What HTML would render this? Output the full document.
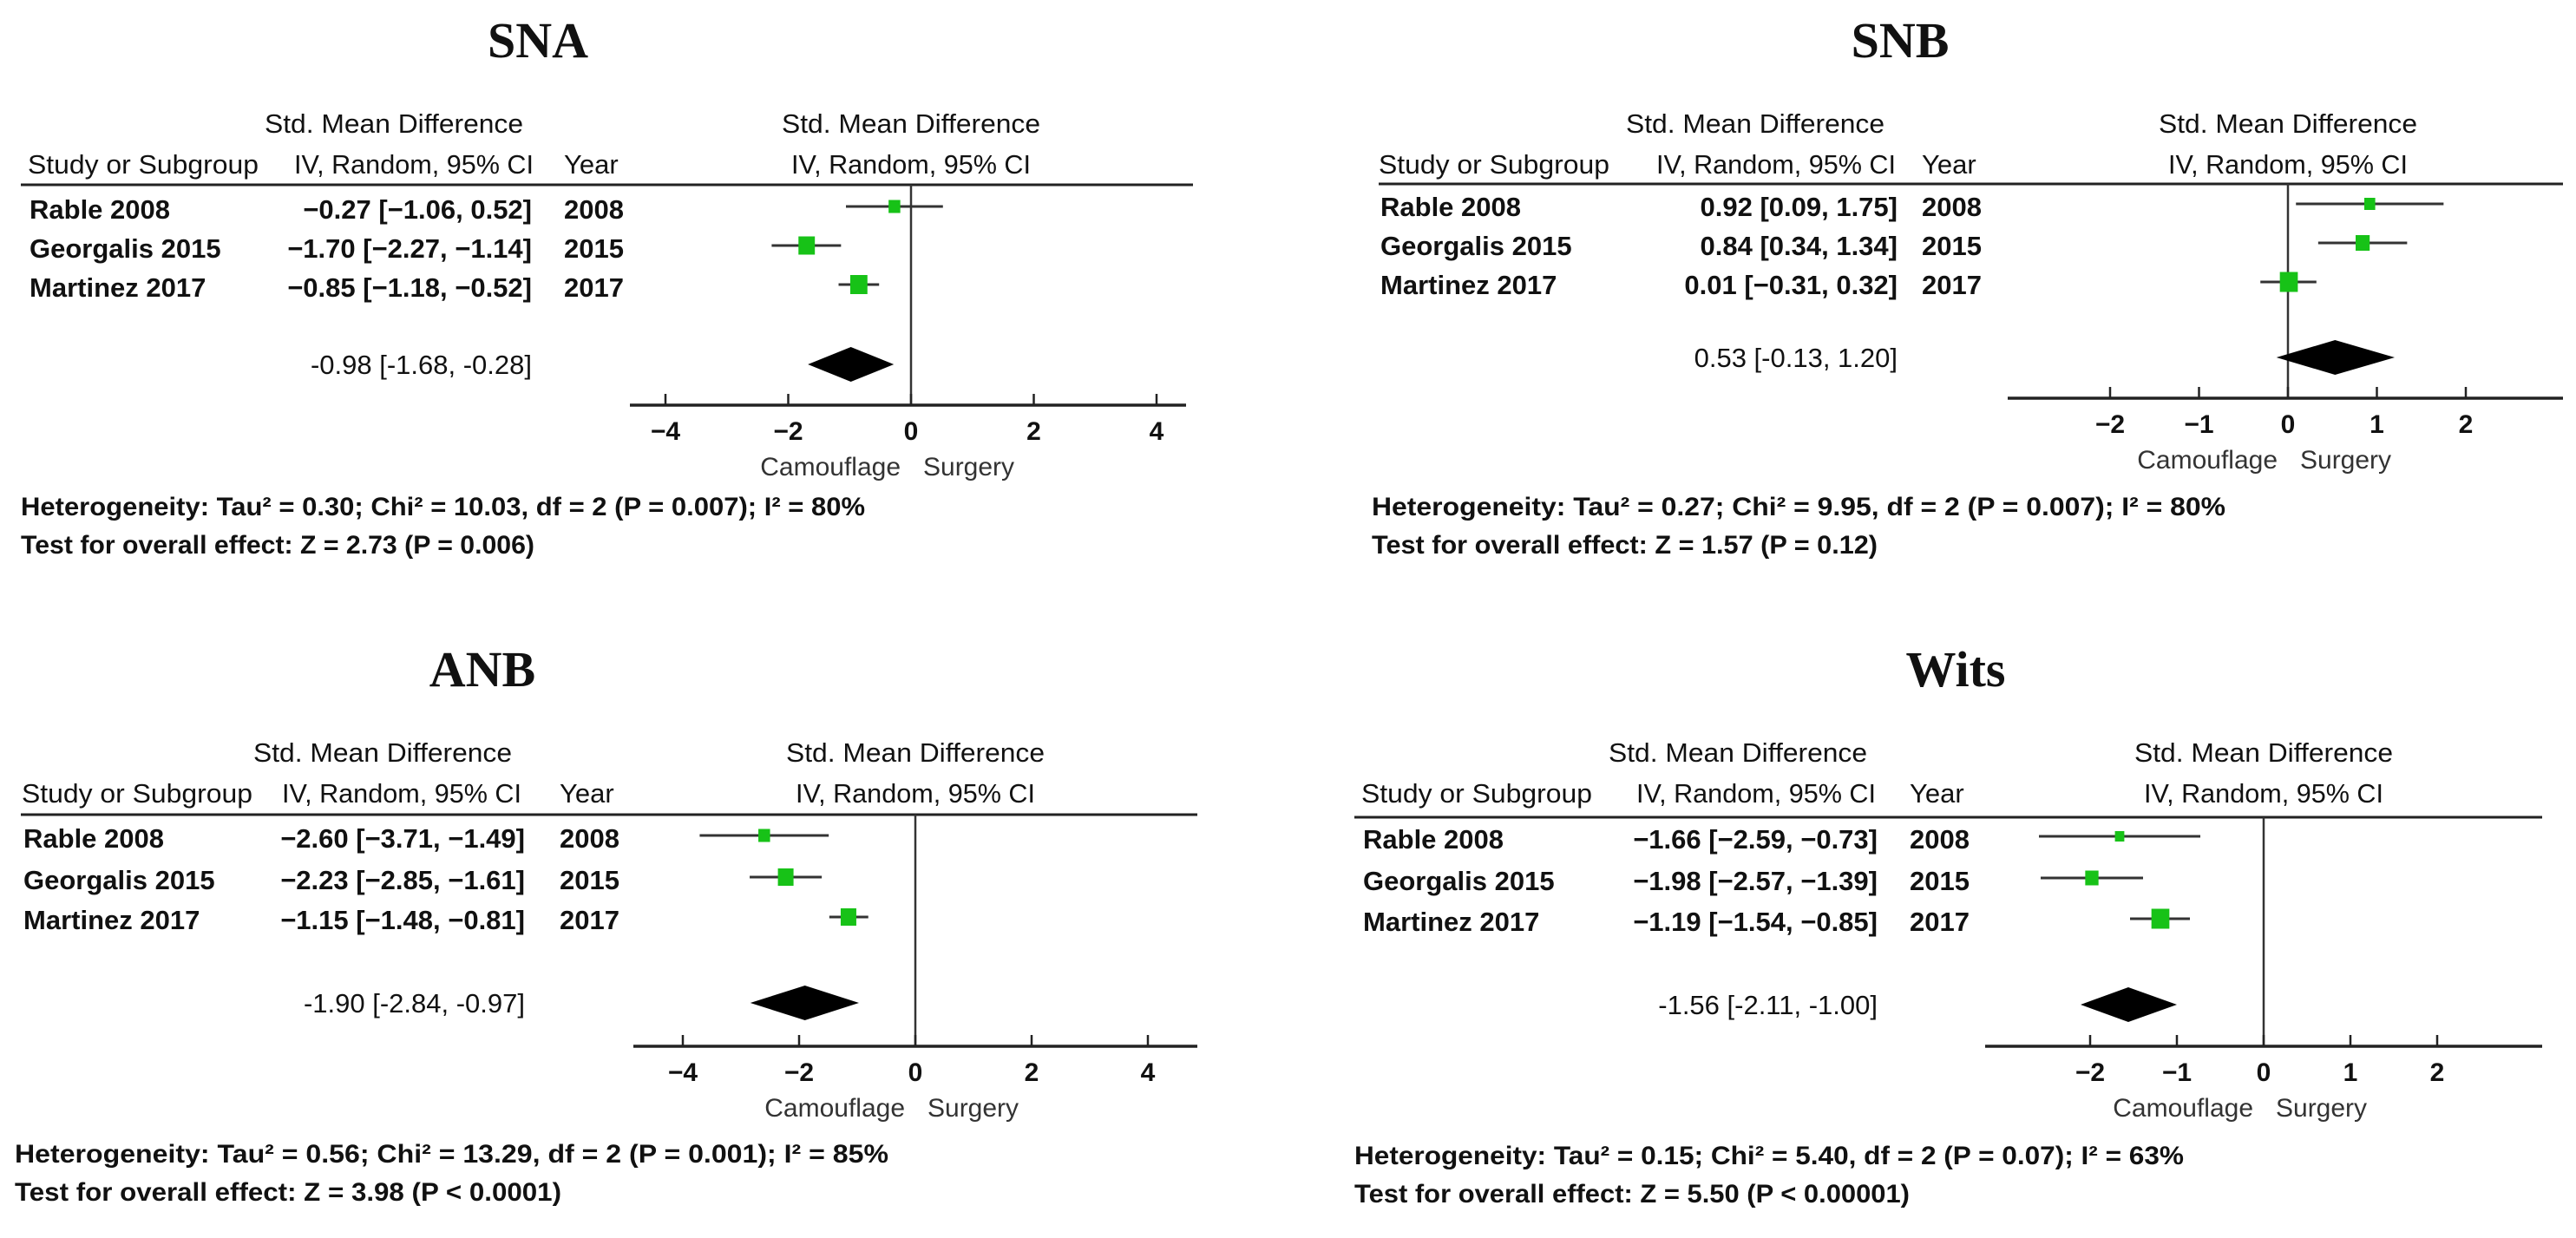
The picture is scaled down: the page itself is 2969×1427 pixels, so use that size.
<!DOCTYPE html>
<html><head><meta charset="utf-8"><title>Forest plots: SNA, SNB, ANB, Wits</title>
<style>
html,body{margin:0;padding:0;background:#fff;}
svg{display:block;}
text{font-family:"Liberation Sans",Arial,sans-serif;fill:#111;}
.title{font-family:"Liberation Serif","Times New Roman",serif;font-weight:bold;font-size:58px;}
.hdr{font-size:31px;}
.row{font-size:31px;font-weight:bold;}
.sum{font-size:31px;}
.tick{font-size:30px;font-weight:bold;}
.dir{font-size:30px;fill:#333;}
.stat{font-size:30px;font-weight:bold;}
</style></head>
<body>
<svg id="chart" width="2969" height="1427" viewBox="0 0 2969 1427" xmlns="http://www.w3.org/2000/svg">
<rect x="0" y="0" width="2969" height="1427" fill="#fff"/>
</svg>
<script>
// ---- data ----
const studies = ["Rable 2008", "Georgalis 2015", "Martinez 2017"];
const years = ["2008", "2015", "2017"];

const snaMeans = [-0.27, -1.70, -0.85];
const snaLow = [-1.06, -2.27, -1.18];
const snaHigh = [0.52, -1.14, -0.52];
const snaWeights = [15, 21, 22];
const snaSummary = [-0.98, -1.68, -0.28];
const snaTicks = [-4, -2, 0, 2, 4];
const snaHet = "Heterogeneity: Tau² = 0.30; Chi² = 10.03, df = 2 (P = 0.007); I² = 80%";
const snaTest = "Test for overall effect: Z = 2.73 (P = 0.006)";

const snbMeans = [0.92, 0.84, 0.01];
const snbLow = [0.09, 0.34, -0.31];
const snbHigh = [1.75, 1.34, 0.32];
const snbWeights = [14, 18, 23];
const snbSummary = [0.53, -0.13, 1.20];
const snbTicks = [-2, -1, 0, 1, 2];
const snbHet = "Heterogeneity: Tau² = 0.27; Chi² = 9.95, df = 2 (P = 0.007); I² = 80%";
const snbTest = "Test for overall effect: Z = 1.57 (P = 0.12)";

const anbMeans = [-2.60, -2.23, -1.15];
const anbLow = [-3.71, -2.85, -1.48];
const anbHigh = [-1.49, -1.61, -0.81];
const anbWeights = [15, 20, 20];
const anbSummary = [-1.90, -2.84, -0.97];
const anbTicks = [-4, -2, 0, 2, 4];
const anbHet = "Heterogeneity: Tau² = 0.56; Chi² = 13.29, df = 2 (P = 0.001); I² = 85%";
const anbTest = "Test for overall effect: Z = 3.98 (P < 0.0001)";

const witsMeans = [-1.66, -1.98, -1.19];
const witsLow = [-2.59, -2.57, -1.54];
const witsHigh = [-0.73, -1.39, -0.85];
const witsWeights = [12, 17, 23];
const witsSummary = [-1.56, -2.11, -1.00];
const witsTicks = [-2, -1, 0, 1, 2];
const witsHet = "Heterogeneity: Tau² = 0.15; Chi² = 5.40, df = 2 (P = 0.07); I² = 63%";
const witsTest = "Test for overall effect: Z = 5.50 (P < 0.00001)";

// ---- layout (not data) ----
const NS = "http://www.w3.org/2000/svg";
const svg = document.getElementById("chart");
function el(tag, attrs, parent, txt) {
  const e = document.createElementNS(NS, tag);
  for (const k in attrs) e.setAttribute(k, attrs[k]);
  if (txt !== undefined) e.textContent = txt;
  (parent || svg).appendChild(e);
  return e;
}
function fmt(v) { return (v < 0 ? "\u2212" : "") + Math.abs(v).toFixed(2); }
function fmtS(v) { return (v < 0 ? "-" : "") + Math.abs(v).toFixed(2); }

function panel(cfg, means, low, high, weights, summary, ticks, het, test) {
  const g = el("g", {});
  
  
  const xs = v => cfg.zero + v * cfg.unit;

  const t = el("text", {x: cfg.titleX, y: cfg.titleY, "text-anchor": "middle", class: "title"}, g, cfg.title);
  
  

  // headers
  let h = el("text", {x: cfg.smdX, y: cfg.h1 + 11, class: "hdr", textLength: 298, lengthAdjust: "spacingAndGlyphs"}, g, "Std. Mean Difference");
  
  
  h = el("text", {x: cfg.studyX, y: cfg.h2 + 11, class: "hdr", textLength: 266, lengthAdjust: "spacingAndGlyphs"}, g, "Study or Subgroup");
  
  
  h = el("text", {x: cfg.ivX, y: cfg.h2 + 11, class: "hdr", textLength: 276, lengthAdjust: "spacingAndGlyphs"}, g, "IV, Random, 95% CI");
  
  
  h = el("text", {x: cfg.yearX, y: cfg.h2 + 11, class: "hdr"}, g, "Year");
  
  
  h = el("text", {x: cfg.zero, y: cfg.h1 + 11, class: "hdr", "text-anchor": "middle", textLength: 298, lengthAdjust: "spacingAndGlyphs"}, g, "Std. Mean Difference");
  
  
  h = el("text", {x: cfg.zero, y: cfg.h2 + 11, class: "hdr", "text-anchor": "middle", textLength: 276, lengthAdjust: "spacingAndGlyphs"}, g, "IV, Random, 95% CI");
  
  

  const hl = el("line", {x1: cfg.lineX1, x2: cfg.lineX2, y1: cfg.lineY, y2: cfg.lineY, stroke: "#222", "stroke-width": 3}, g);
  
  

  // zero line
  const zl = el("line", {x1: xs(0), x2: xs(0), y1: cfg.lineY, y2: cfg.axisY, stroke: "#333", "stroke-width": 2.5}, g);
  
  

  // rows
  for (let i = 0; i < studies.length; i++) {
    const y = cfg.rows[i];
    let tx = el("text", {x: cfg.studyX + 2, y: y + 11, class: "row"}, g, studies[i]);
    
    
    tx = el("text", {x: cfg.valR, y: y + 11, class: "row", "text-anchor": "end"}, g,
      fmt(means[i]) + " [" + fmt(low[i]) + ", " + fmt(high[i]) + "]");
    
    
    tx = el("text", {x: cfg.yearX, y: y + 11, class: "row"}, g, years[i]);
    
    

    const my = y - 3;
    const ci = el("line", {x1: xs(low[i]), x2: xs(high[i]), y1: my, y2: my, stroke: "#333", "stroke-width": 3}, g);
    
    
    const w = weights[i];
    const sq = el("rect", {x: xs(means[i]) - w * 0.45, y: my - w / 2, width: w * 0.9, height: w, fill: "#17c217"}, g);
    
    
  }

  // summary
  const sy = cfg.sumY;
  let st = el("text", {x: cfg.valR, y: sy + 11, class: "sum", "text-anchor": "end"}, g,
    fmtS(summary[0]) + " [" + fmtS(summary[1]) + ", " + fmtS(summary[2]) + "]");
  
  
  const d = el("polygon", {points:
    xs(summary[1]) + "," + sy + " " + xs(summary[0]) + "," + (sy - 20) + " " +
    xs(summary[2]) + "," + sy + " " + xs(summary[0]) + "," + (sy + 20), fill: "#000"}, g);
  
  

  // axis
  const ax = el("line", {x1: cfg.axX1, x2: cfg.axX2, y1: cfg.axisY, y2: cfg.axisY, stroke: "#222", "stroke-width": 3.5}, g);
  
  
  for (const tv of ticks) {
    const tk = el("line", {x1: xs(tv), x2: xs(tv), y1: cfg.axisY - 13, y2: cfg.axisY, stroke: "#222", "stroke-width": 2.5}, g);
    
    
    const tl = el("text", {x: xs(tv), y: cfg.axisY + 40, class: "tick", "text-anchor": "middle"}, g, tv < 0 ? "\u2212" + Math.abs(tv) : String(tv));
    
    
  }
  let dl = el("text", {x: xs(0) - 12, y: cfg.axisY + 81, class: "dir", "text-anchor": "end"}, g, "Camouflage");
  
  
  dl = el("text", {x: xs(0) + 14, y: cfg.axisY + 81, class: "dir"}, g, "Surgery");
  
  

  // stats
  let s1 = el("text", {x: cfg.studyX - 8, y: cfg.hetY, class: "stat", textLength: cfg.hetW, lengthAdjust: "spacingAndGlyphs"}, g, het);
  
  
  s1 = el("text", {x: cfg.studyX - 8, y: cfg.hetY + 44, class: "stat", textLength: cfg.testW, lengthAdjust: "spacingAndGlyphs"}, g, test);
  
  
}

panel({key: "sna", title: "SNA", titleX: 620, titleY: 66, studyX: 32, smdX: 305, ivX: 339, yearX: 650, valR: 613,
  h1: 142, h2: 189, lineY: 213, lineX1: 24, lineX2: 1375, rows: [241, 286, 331], sumY: 420,
  zero: 1050, unit: 70.75, axisY: 467, axX1: 726, axX2: 1367, hetY: 594, hetW: 973, testW: 592},
  snaMeans, snaLow, snaHigh, snaWeights, snaSummary, snaTicks, snaHet, snaTest);

panel({key: "snb", title: "SNB", titleX: 2190, titleY: 66, studyX: 1589, smdX: 1874, ivX: 1909, yearX: 2215, valR: 2187,
  h1: 142, h2: 189, lineY: 212, lineX1: 1589, lineX2: 2954, rows: [238, 283, 328], sumY: 412,
  zero: 2637, unit: 102.5, axisY: 459, axX1: 2314, axX2: 2954, hetY: 594, hetW: 984, testW: 583},
  snbMeans, snbLow, snbHigh, snbWeights, snbSummary, snbTicks, snbHet, snbTest);

panel({key: "anb", title: "ANB", titleX: 556, titleY: 791, studyX: 25, smdX: 292, ivX: 325, yearX: 645, valR: 605,
  h1: 867, h2: 914, lineY: 939, lineX1: 24, lineX2: 1380, rows: [966, 1014, 1060], sumY: 1156,
  zero: 1055, unit: 67, axisY: 1206, axX1: 730, axX2: 1380, hetY: 1340, hetW: 1007, testW: 630},
  anbMeans, anbLow, anbHigh, anbWeights, anbSummary, anbTicks, anbHet, anbTest);

panel({key: "wits", title: "Wits", titleX: 2254, titleY: 791, studyX: 1569, smdX: 1854, ivX: 1886, yearX: 2201, valR: 2164,
  h1: 867, h2: 914, lineY: 942, lineX1: 1561, lineX2: 2930, rows: [967, 1015, 1062], sumY: 1158,
  zero: 2609, unit: 100, axisY: 1206, axX1: 2288, axX2: 2930, hetY: 1342, hetW: 956, testW: 640},
  witsMeans, witsLow, witsHigh, witsWeights, witsSummary, witsTicks, witsHet, witsTest);
</script>
</body></html>
